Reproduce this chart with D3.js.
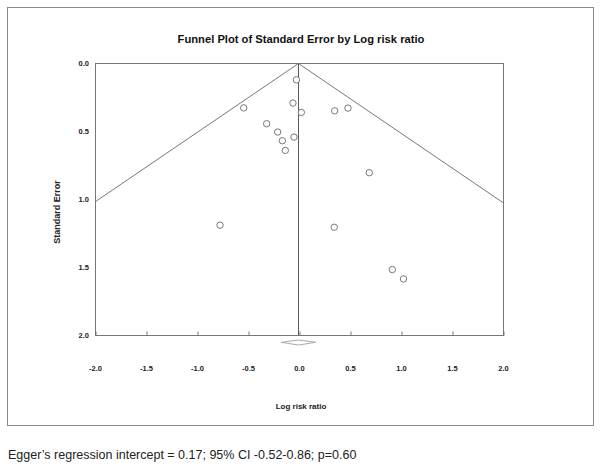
<!DOCTYPE html>
<html>
  <head>
    <title>funnel plot</title>
    <meta charset="utf-8" />
    <script src="https://d3js.org/d3.v7.min.js"></script>
    <style>
      body { margin: 0; background: #fff; }
      text { font-family: "Liberation Sans", Arial, sans-serif; }
    </style>
  </head>
  <body>
    <script>
      // study values
      const logRiskRatio = [-0.03, -0.547, -0.064, 0.018, 0.345, 0.475, -0.322, -0.214,
        -0.168, -0.054, -0.139, 0.684, -0.779, 0.341, 0.91, 1.02];
      const standardError = [0.12, 0.326, 0.291, 0.36, 0.348, 0.328, 0.443, 0.504,
        0.568, 0.541, 0.639, 0.803, 1.189, 1.204, 1.515, 1.584];
      const pooled = -0.01;          // summary log risk ratio
      const pooledCI = [-0.18, 0.16]; // diamond extent
      const xTicks = [-2.0, -1.5, -1.0, -0.5, 0.0, 0.5, 1.0, 1.5, 2.0];
      const yTicks = [0.0, 0.5, 1.0, 1.5, 2.0];

      const width = 600, height = 466;
      const svg = d3.select("body").append("svg")
        .attr("width", width)
        .attr("height", height);

      // outer frame
      svg.append("rect")
        .attr("x", 7.5).attr("y", 7.5)
        .attr("width", 586).attr("height", 418)
        .attr("fill", "none")
        .attr("stroke", "#8a8a8a");

      const x = d3.scaleLinear().domain([-2, 2]).range([95.5, 503.5]);
      const y = d3.scaleLinear().domain([0, 2]).range([63.5, 335.5]);

      // title
      svg.append("text")
        .attr("x", 301).attr("y", 43)
        .attr("text-anchor", "middle")
        .attr("font-weight", "bold")
        .attr("font-size", 11.2)
        .attr("fill", "#111")
        .text("Funnel Plot of Standard Error by Log risk ratio");

      // plot box
      svg.append("rect")
        .attr("x", x(-2)).attr("y", y(0))
        .attr("width", x(2) - x(-2)).attr("height", y(2) - y(0))
        .attr("fill", "none")
        .attr("stroke", "#777");

      // x axis ticks (pointing inward)
      const xAxis = d3.axisBottom(x).tickValues(xTicks).tickSize(-4).tickFormat("");
      svg.append("g")
        .attr("transform", `translate(0,${y(2)})`)
        .call(xAxis)
        .call((g) => g.select(".domain").remove())
        .call((g) => g.selectAll("line").attr("stroke", "#777"));

      svg.append("g")
        .selectAll("text")
        .data(xTicks)
        .join("text")
        .attr("x", (d) => x(d))
        .attr("y", 371)
        .attr("text-anchor", "middle")
        .attr("font-size", 7.5)
        .attr("font-weight", "bold")
        .attr("fill", "#222")
        .text((d) => d3.format(".1f")(d).replace("−", "-"));

      // y axis labels
      svg.append("g")
        .selectAll("text")
        .data(yTicks)
        .join("text")
        .attr("x", 89)
        .attr("y", (d) => y(d) + 2.5)
        .attr("text-anchor", "end")
        .attr("font-size", 7.5)
        .attr("font-weight", "bold")
        .attr("fill", "#222")
        .text((d) => d3.format(".1f")(d));

      // axis titles
      svg.append("text")
        .attr("transform", "translate(60,212) rotate(-90)")
        .attr("text-anchor", "middle")
        .attr("font-size", 9)
        .attr("font-weight", "bold")
        .attr("fill", "#222")
        .text("Standard Error");

      svg.append("text")
        .attr("x", 301).attr("y", 409)
        .attr("text-anchor", "middle")
        .attr("font-size", 8)
        .attr("font-weight", "bold")
        .attr("fill", "#222")
        .text("Log risk ratio");

      // funnel lines, clipped to the plot box
      svg.append("clipPath").attr("id", "plotclip")
        .append("rect")
        .attr("x", x(-2)).attr("y", y(0))
        .attr("width", x(2) - x(-2)).attr("height", y(2) - y(0));

      const plot = svg.append("g").attr("clip-path", "url(#plotclip)");
      const line = d3.line().x((d) => x(d[0])).y((d) => y(d[1]));

      plot.append("path")
        .attr("d", line([[pooled - 1.96 * 2, 2], [pooled, 0], [pooled + 1.96 * 2, 2]]))
        .attr("fill", "none")
        .attr("stroke", "#777");

      plot.append("path")
        .attr("d", line([[pooled, 0], [pooled, 2]]))
        .attr("fill", "none")
        .attr("stroke", "#555");

      // studies
      svg.append("g")
        .selectAll("circle")
        .data(logRiskRatio)
        .join("circle")
        .attr("cx", (d) => x(d))
        .attr("cy", (d, i) => y(standardError[i]))
        .attr("r", 3.2)
        .attr("fill", "#fff")
        .attr("stroke", "#777");

      // summary diamond below the axis
      svg.append("path")
        .attr("d", line([[pooledCI[0], 2.05], [pooled, 2.033], [pooledCI[1], 2.05],
          [pooled, 2.07], [pooledCI[0], 2.05]]))
        .attr("fill", "#fff")
        .attr("stroke", "#aaa");

      // note under the frame
      svg.append("text")
        .attr("x", 8).attr("y", 459)
        .attr("font-size", 12.5)
        .attr("fill", "#222")
        .text("Egger\u2019s regression intercept = 0.17; 95% CI -0.52-0.86; p=0.60");
    </script>
  </body>
</html>
